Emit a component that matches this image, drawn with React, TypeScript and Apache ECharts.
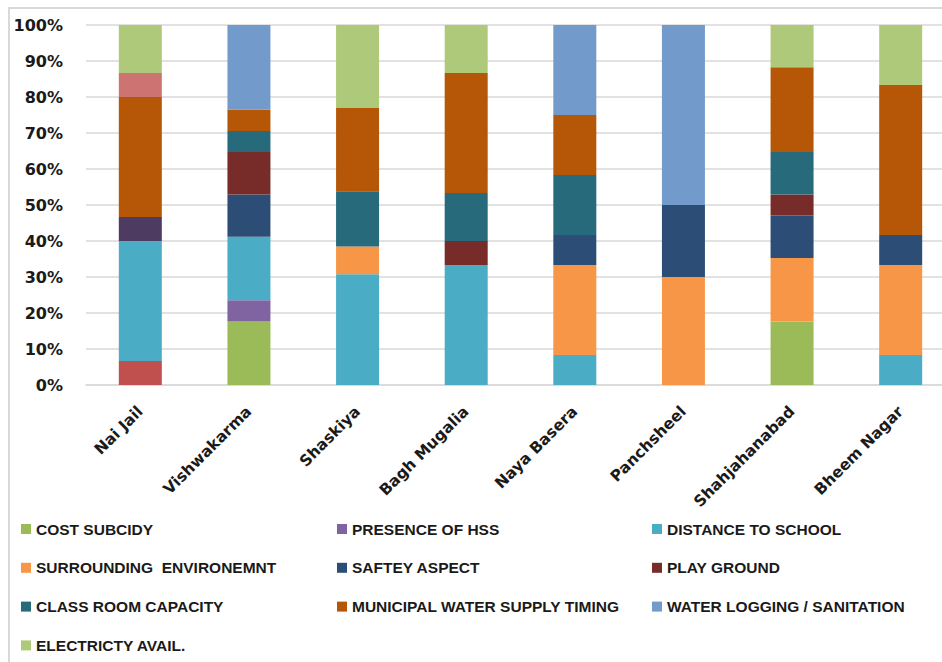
import React, { useEffect, useRef } from "react";
import * as echarts from "echarts";

const categories = ["Nai Jail", "Vishwakarma", "Shaskiya", "Bagh Mugalia", "Naya Basera", "Panchsheel", "Shahjahanabad", "Bheem Nagar"];

// values in percent, stacked bottom -> top
const otherRed = [6.67, 0, 0, 0, 0, 0, 0, 0];
const costSubcidy = [0, 17.65, 0, 0, 0, 0, 17.65, 0];
const presenceOfHss = [0, 5.88, 0, 0, 0, 0, 0, 0];
const distanceToSchool = [33.33, 17.65, 30.77, 33.33, 8.33, 0, 0, 8.33];
const surroundingEnv = [0, 0, 7.69, 0, 25, 30, 17.65, 25];
const safteyAspect = [0, 11.76, 0, 0, 8.33, 20, 11.76, 8.33];
const playGround = [0, 11.76, 0, 6.67, 0, 0, 5.88, 0];
const otherPurple = [6.67, 0, 0, 0, 0, 0, 0, 0];
const classRoomCapacity = [0, 5.88, 15.38, 13.33, 16.67, 0, 11.76, 0];
const municipalWater = [33.33, 5.88, 23.08, 33.33, 16.67, 0, 23.53, 41.67];
const waterLogging = [0, 23.53, 0, 0, 25, 50, 0, 0];
const otherPink = [6.67, 0, 0, 0, 0, 0, 0, 0];
const electricityAvail = [13.33, 0, 23.08, 13.33, 0, 0, 11.76, 16.67];

const yTicks = [0, 10, 20, 30, 40, 50, 60, 70, 80, 90, 100];

const seriesDefs = [
  { name: "OTHER 1", data: otherRed, color: "#C0504D" },
  { name: "COST SUBCIDY", data: costSubcidy, color: "#9BBB59" },
  { name: "PRESENCE OF HSS", data: presenceOfHss, color: "#8064A2" },
  { name: "DISTANCE TO SCHOOL", data: distanceToSchool, color: "#4BACC6" },
  { name: "SURROUNDING  ENVIRONEMNT", data: surroundingEnv, color: "#F79646" },
  { name: "SAFTEY ASPECT", data: safteyAspect, color: "#2C4D75" },
  { name: "PLAY GROUND", data: playGround, color: "#772C2A" },
  { name: "OTHER 2", data: otherPurple, color: "#4D3B62" },
  { name: "CLASS ROOM CAPACITY", data: classRoomCapacity, color: "#276A7C" },
  { name: "MUNICIPAL WATER SUPPLY TIMING", data: municipalWater, color: "#B65708" },
  { name: "WATER LOGGING / SANITATION", data: waterLogging, color: "#729ACA" },
  { name: "OTHER 3", data: otherPink, color: "#CD7371" },
  { name: "ELECTRICTY AVAIL.", data: electricityAvail, color: "#AFC97A" },
];

const legendCol1 = ["COST SUBCIDY", "SURROUNDING  ENVIRONEMNT", "CLASS ROOM CAPACITY", "ELECTRICTY AVAIL."];
const legendCol2 = ["PRESENCE OF HSS", "SAFTEY ASPECT", "MUNICIPAL WATER SUPPLY TIMING"];
const legendCol3 = ["DISTANCE TO SCHOOL", "PLAY GROUND", "WATER LOGGING / SANITATION"];

export default function App() {
  const ref = useRef<HTMLDivElement>(null);
  useEffect(() => {
    if (!ref.current) return;
    const chart = echarts.init(ref.current, null, { renderer: "svg" });
    const legendBase = {
      orient: "vertical" as const,
      top: 519,
      padding: 0,
      itemWidth: 10,
      itemHeight: 10,
      itemGap: 18.8,
      icon: "rect",
      textStyle: {
        fontFamily: "Liberation Sans, Arial, sans-serif",
        fontWeight: "bold",
        fontSize: 15.5,
        color: "#1a1a1a",
        lineHeight: 20,
      },
    };
    chart.setOption({
      animation: false,
      backgroundColor: "#ffffff",
      graphic: [
        {
          type: "rect",
          shape: { x: 9, y: 8, width: 1000, height: 700 },
          style: { fill: "none", stroke: "#D9D9D9", lineWidth: 2 },
          silent: true,
        },
      ],
      grid: { left: 86, top: 25, width: 869, height: 360, containLabel: false },
      legend: [
        { ...legendBase, left: 21, data: legendCol1 },
        { ...legendBase, left: 337, data: legendCol2 },
        { ...legendBase, left: 652, data: legendCol3 },
      ],
      xAxis: {
        type: "category",
        data: categories,
        axisTick: { show: false },
        axisLine: { lineStyle: { color: "#D9D9D9", width: 1.5 } },
        axisLabel: {
          rotate: 45,
          margin: 24,
          interval: 0,
          fontFamily: "DejaVu Sans, sans-serif",
          fontWeight: "bold",
          fontSize: 15.5,
          color: "#1a1a1a",
        },
      },
      yAxis: {
        type: "value",
        min: yTicks[0],
        max: yTicks[yTicks.length - 1],
        interval: 10,
        axisLine: { show: false },
        axisTick: { show: false },
        splitLine: { lineStyle: { color: "#D9D9D9", width: 1.5 } },
        axisLabel: {
          formatter: "{value}%",
          margin: 23,
          fontFamily: "DejaVu Sans, sans-serif",
          fontWeight: "bold",
          fontSize: 16,
          color: "#1a1a1a",
        },
      },
      series: seriesDefs.map((s) => ({
        name: s.name,
        type: "bar",
        stack: "total",
        barWidth: 43,
        itemStyle: { color: s.color },
        data: s.data.map((v) => (v === 0 ? null : v)),
      })),
    });
    return () => chart.dispose();
  }, []);
  return (
    <div style={{ position: "fixed", left: 0, top: 0, width: 942, height: 662, overflow: "hidden", background: "#fff" }}>
      <div ref={ref} style={{ position: "absolute", left: 0, top: 0, width: 980, height: 662 }} />
    </div>
  );
}
